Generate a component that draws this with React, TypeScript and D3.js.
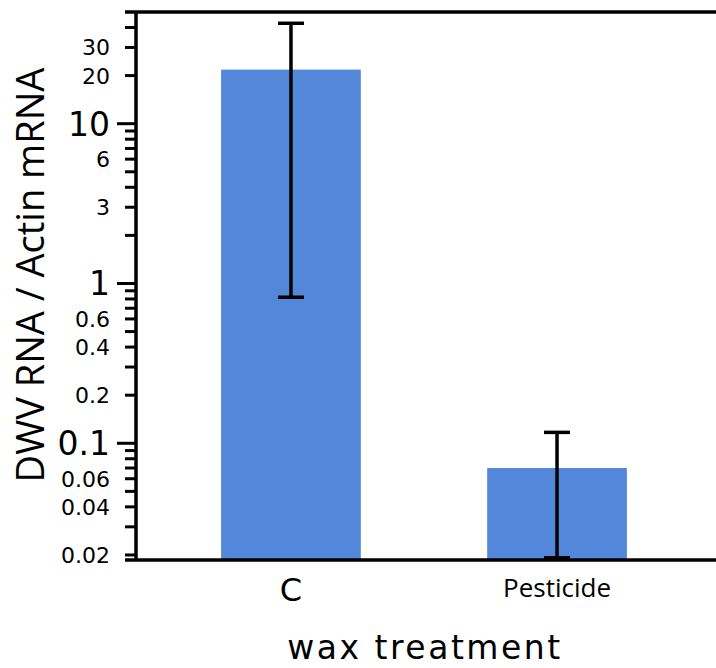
import * as d3 from "d3";

const categories = ["C", "Pesticide"];
const means = [21.8, 0.07];
const errHigh = [42.5, 0.117];
const errLow = [0.82, 0.0192];

const tickValues = [
  0.02, 0.03, 0.04, 0.05, 0.06, 0.07, 0.08, 0.09,
  0.1, 0.2, 0.3, 0.4, 0.5, 0.6, 0.7, 0.8, 0.9,
  1, 2, 3, 4, 5, 6, 7, 8, 9,
  10, 20, 30, 40,
];
const labelledTicks = [0.02, 0.04, 0.06, 0.1, 0.2, 0.4, 0.6, 1, 3, 6, 10, 20, 30];
const majorTicks = [0.1, 1, 10];

const App = () => {
  const width = 716;
  const height = 668;
  const left = 136;
  const top = 12;
  const bottom = 560;

  const y = d3.scaleLog().domain([0.0186, 50]).range([bottom, top]);
  const x = d3
    .scaleBand()
    .domain(categories)
    .range([left, 712])
    .paddingInner(0.475)
    .paddingOuter(0.32);

  const fmt = (v: number) => (v >= 1 ? String(v) : String(+v.toFixed(2)));

  return (
    <svg
      width={width}
      height={height}
      style={{ display: "block", position: "absolute", left: 0, top: 0 }}
    >
      {/* bars */}
      {categories.map((c, i) => (
        <rect
          key={c}
          x={x(c)!}
          y={y(means[i])}
          width={x.bandwidth()}
          height={bottom - y(means[i])}
          fill="#5387d9"
        />
      ))}

      {/* error bars */}
      {categories.map((c, i) => {
        const cx = x(c)! + x.bandwidth() / 2;
        return (
          <g key={c} stroke="#000" strokeWidth={3.5}>
            <line x1={cx} x2={cx} y1={y(errHigh[i])} y2={y(errLow[i])} />
            <line x1={cx - 13} x2={cx + 13} y1={y(errHigh[i])} y2={y(errHigh[i])} />
            <line x1={cx - 13} x2={cx + 13} y1={y(errLow[i])} y2={y(errLow[i])} />
          </g>
        );
      })}

      {/* frame */}
      <line x1={125} x2={width} y1={top} y2={top} stroke="#000" strokeWidth={3.5} />
      <line x1={125} x2={width} y1={bottom} y2={bottom} stroke="#000" strokeWidth={3.5} />
      <line x1={left} x2={left} y1={top} y2={bottom} stroke="#000" strokeWidth={3.5} />

      {/* y ticks */}
      {tickValues.map((v) => {
        const major = majorTicks.includes(v);
        return (
          <line
            key={v}
            x1={major ? 117 : 125}
            x2={left}
            y1={y(v)}
            y2={y(v)}
            stroke="#000"
            strokeWidth={3}
          />
        );
      })}
      {labelledTicks.map((v) => {
        const major = majorTicks.includes(v);
        return (
          <text
            key={v}
            x={110}
            y={y(v)}
            dy="0.36em"
            textAnchor="end"
            fontFamily="DejaVu Sans"
            fontSize={major ? 33 : 22}
            fill="#000"
          >
            {fmt(v)}
          </text>
        );
      })}

      {/* x labels */}
      <text
        x={x("C")! + x.bandwidth() / 2}
        y={601}
        textAnchor="middle"
        fontFamily="DejaVu Sans"
        fontSize={32}
      >
        C
      </text>
      <text
        x={x("Pesticide")! + x.bandwidth() / 2}
        y={597}
        textAnchor="middle"
        fontFamily="Open Sans"
        fontSize={26}
      >
        Pesticide
      </text>

      {/* axis titles */}
      <text
        x={425}
        y={659}
        textAnchor="middle"
        fontFamily="DejaVu Sans"
        fontSize={33}
        letterSpacing={2.5}
      >
        wax treatment
      </text>
      <text
        transform={`translate(44,275) rotate(-90)`}
        textAnchor="middle"
        fontFamily="Open Sans"
        fontSize={38}
      >
        DWV RNA / Actin mRNA
      </text>
    </svg>
  );
};

export default App;
